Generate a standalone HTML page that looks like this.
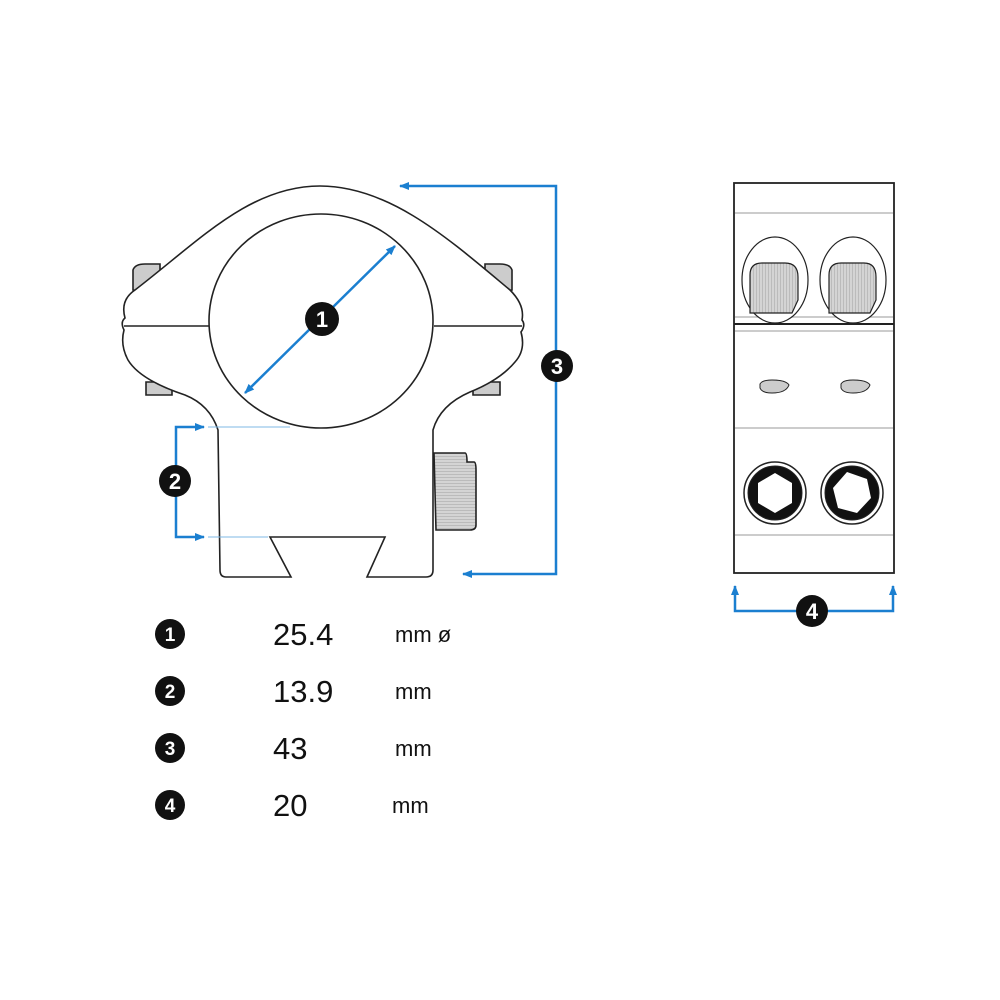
<!DOCTYPE html>
<html><head><style>body{margin:0;background:#fff}svg{display:block}</style></head><body>
<svg width="1000" height="1000" viewBox="0 0 1000 1000" xmlns="http://www.w3.org/2000/svg" font-family="Liberation Sans, sans-serif">
<defs>
<marker id="a" markerUnits="userSpaceOnUse" markerWidth="10" markerHeight="10" refX="9" refY="5" orient="auto"><path d="M0,1 L10,5 L0,9 Z" fill="#1b7fd0"/></marker>
<pattern id="k" width="3" height="3" patternUnits="userSpaceOnUse"><rect width="3" height="3" fill="#d4d4d4"/><rect width="3" height="1" fill="#bbb"/></pattern>
<pattern id="kv" width="3" height="3" patternUnits="userSpaceOnUse"><rect width="3" height="3" fill="#d4d4d4"/><rect width="1" height="3" fill="#bbb"/></pattern>
</defs>
<g stroke="#222" stroke-width="1.6" fill="#fff">
<path d="M133,290 L133,270 Q135,264 145,264 L160,264 L160,292 Z" fill="#ccc"/>
<path d="M146,382 L146,395 L172,395 L172,382 Z" fill="#ccc"/>
<path d="M512,290 L512,270 Q510,264 500,264 L485,264 L485,292 Z" fill="#ccc"/>
<path d="M500,382 L500,395 L473,395 L473,382 Z" fill="#ccc"/>
<path d="M434,453 L465,453 Q467,453 467,462 L474,462 Q476,462 476,470 L476,525 Q476,530 470,530 L436,530 Z" fill="url(#k)"/>
<path d="M218,430 Q210,405 185,395 Q140,380 128,360 Q120,345 124,330 Q120,322 125,318 Q120,300 135,290 C200,240 250,186 320,186 C390,186 450,240 510,290 Q525,305 522,320 Q526,325 521,332 Q526,350 515,362 Q500,380 470,392 Q440,405 433,430 L433,570 Q433,577 426,577 L367,577 L385,537 L270,537 L291,577 L226,577 Q220,577 220,570 Z"/>
<line x1="124" y1="326" x2="209" y2="326"/>
<line x1="434" y1="326" x2="522" y2="326"/>
<ellipse cx="321" cy="321" rx="112" ry="107"/>
</g>
<g stroke="#1b7fd0" stroke-width="2.5" fill="none">
<path d="M556,351 L556,186 L400,186" marker-end="url(#a)"/>
<path d="M556,381 L556,574 L463,574" marker-end="url(#a)"/>
<line x1="315" y1="324" x2="245" y2="393" marker-end="url(#a)"/>
<line x1="328" y1="312" x2="395" y2="246" marker-end="url(#a)"/>
<path d="M176,467 L176,427 L204,427" marker-end="url(#a)"/>
<path d="M176,495 L176,537 L204,537" marker-end="url(#a)"/>
<path d="M798,611 L735,611 L735,586" marker-end="url(#a)"/>
<path d="M826,611 L893,611 L893,586" marker-end="url(#a)"/>
</g>
<line x1="208" y1="427" x2="290" y2="427" stroke="#7fb8e6" stroke-width="1"/>
<line x1="208" y1="537" x2="268" y2="537" stroke="#7fb8e6" stroke-width="1"/>
<g stroke="#222" fill="#fff">
<rect x="734" y="183" width="160" height="390" stroke-width="1.8"/>
<g stroke="#bbb" stroke-width="1.5"><line x1="735" y1="213" x2="893" y2="213"/><line x1="735" y1="317" x2="893" y2="317"/><line x1="735" y1="331" x2="893" y2="331"/><line x1="735" y1="428" x2="893" y2="428"/><line x1="735" y1="535" x2="893" y2="535"/></g>
<line x1="734" y1="324" x2="894" y2="324" stroke-width="2"/>
<ellipse cx="775" cy="280" rx="33" ry="43" stroke-width="1.2"/>
<ellipse cx="853" cy="280" rx="33" ry="43" stroke-width="1.2"/>
<path d="M750,313 L750,275 Q750,263 762,263 L785,263 Q798,263 798,277 L798,300 L792,313 Z" fill="url(#kv)" stroke-width="1.2"/>
<path d="M829,313 L829,275 Q829,263 841,263 L864,263 Q876,263 876,277 L876,300 L870,313 Z" fill="url(#kv)" stroke-width="1.2"/>
<path d="M760,384 Q762,380 772,380 Q786,380 789,385 Q786,393 772,393 Q762,393 760,388 Z" fill="#ccc" stroke-width="1"/>
<path d="M841,384 Q843,380 853,380 Q867,380 870,385 Q867,393 853,393 Q843,393 841,388 Z" fill="#ccc" stroke-width="1"/>
<circle cx="775" cy="493" r="31" stroke-width="1.5"/><circle cx="775" cy="493" r="27" fill="#111"/>
<polygon points="775,473 792,483 792,503 775,513 758,503 758,483" fill="#fff" stroke="none"/>
<circle cx="852" cy="493" r="31" stroke-width="1.5"/><circle cx="852" cy="493" r="27" fill="#111"/>
<polygon points="847,472 867,479 871,498 857,513 838,508 833,488" fill="#fff" stroke="none"/>
</g>
<g fill="#111"><circle cx="322" cy="319" r="17"/><circle cx="557" cy="366" r="16"/><circle cx="175" cy="481" r="16"/><circle cx="812" cy="611" r="16"/>
<circle cx="170" cy="634" r="15"/><circle cx="170" cy="691" r="15"/><circle cx="170" cy="748" r="15"/><circle cx="170" cy="805" r="15"/></g>
<g fill="#fff" font-size="22" font-weight="bold" text-anchor="middle"><text x="322" y="327">1</text><text x="557" y="374">3</text><text x="175" y="489">2</text><text x="812" y="619">4</text>
<g font-size="19"><text x="170" y="641">1</text><text x="170" y="698">2</text><text x="170" y="755">3</text><text x="170" y="812">4</text></g></g>
<g fill="#111" font-size="31"><text x="273" y="645">25.4</text><text x="273" y="702">13.9</text><text x="273" y="759">43</text><text x="273" y="816">20</text></g>
<g fill="#111" font-size="22"><text x="395" y="642">mm  ø</text><text x="395" y="699">mm</text><text x="395" y="756">mm</text><text x="392" y="813">mm</text></g>
</svg>
</body></html>
